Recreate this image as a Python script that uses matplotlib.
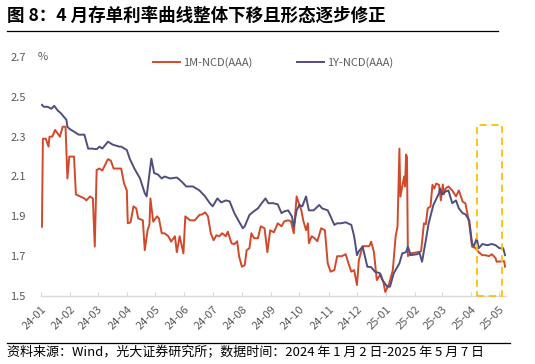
import matplotlib
matplotlib.use("Agg")
import matplotlib.pyplot as plt
import matplotlib.dates as mdates
import pandas as pd
from matplotlib.patches import Rectangle

plt.rcParams['font.family'] = ['Noto Sans CJK SC', 'DejaVu Sans']

title = "图 8：4 月存单利率曲线整体下移且形态逐步修正"
source = "资料来源：Wind，光大证券研究所；数据时间：2024 年 1 月 2 日-2025 年 5 月 7 日"
series_names = ["1M-NCD(AAA)", "1Y-NCD(AAA)"]
y_ticks = [1.5, 1.7, 1.9, 2.1, 2.3, 2.5, 2.7]
x_ticks = ["2024-01-01", "2024-02-01", "2024-03-01", "2024-04-01", "2024-05-01", "2024-06-01",
           "2024-07-01", "2024-08-01", "2024-09-01", "2024-10-01", "2024-11-01", "2024-12-01",
           "2025-01-01", "2025-02-01", "2025-03-01", "2025-04-01", "2025-05-01"]
x_tick_labels = ["24-01", "24-02", "24-03", "24-04", "24-05", "24-06", "24-07", "24-08", "24-09",
                 "24-10", "24-11", "24-12", "25-01", "25-02", "25-03", "25-04", "25-05"]
highlight_range = ["2025-04-07", "2025-05-04"]
highlight_top = 2.36

dates_1m = ["2024-01-02", "2024-01-03", "2024-01-06", "2024-01-09", "2024-01-10", "2024-01-13",
            "2024-01-16", "2024-01-21", "2024-01-24", "2024-01-27", "2024-01-29", "2024-01-31",
            "2024-02-05", "2024-02-07", "2024-02-16", "2024-02-18", "2024-02-22", "2024-02-25",
            "2024-02-27", "2024-02-29", "2024-03-03", "2024-03-06", "2024-03-12", "2024-03-15",
            "2024-03-18", "2024-03-26", "2024-03-29", "2024-04-01", "2024-04-02", "2024-04-05",
            "2024-04-08", "2024-04-11", "2024-04-13", "2024-04-18", "2024-04-20", "2024-04-23",
            "2024-04-25", "2024-04-26", "2024-04-29", "2024-05-03", "2024-05-05", "2024-05-08",
            "2024-05-11", "2024-05-15", "2024-05-18", "2024-05-22", "2024-05-24", "2024-05-27",
            "2024-05-31", "2024-06-02", "2024-06-07", "2024-06-12", "2024-06-17", "2024-06-20",
            "2024-06-23", "2024-06-26", "2024-06-29", "2024-07-02", "2024-07-05", "2024-07-08",
            "2024-07-11", "2024-07-15", "2024-07-17", "2024-07-21", "2024-07-24", "2024-07-27",
            "2024-07-29", "2024-08-01", "2024-08-04", "2024-08-06", "2024-08-09", "2024-08-11",
            "2024-08-14", "2024-08-18", "2024-08-21", "2024-08-25", "2024-08-28", "2024-08-31",
            "2024-09-04", "2024-09-08", "2024-09-12", "2024-09-15", "2024-09-19", "2024-09-22",
            "2024-09-25", "2024-09-28", "2024-09-30", "2024-10-03", "2024-10-05", "2024-10-08",
            "2024-10-10", "2024-10-11", "2024-10-14", "2024-10-17", "2024-10-20", "2024-10-24",
            "2024-10-28", "2024-10-31", "2024-11-03", "2024-11-07", "2024-11-10", "2024-11-15",
            "2024-11-19", "2024-11-22", "2024-11-25", "2024-11-28", "2024-12-01", "2024-12-03",
            "2024-12-07", "2024-12-10", "2024-12-14", "2024-12-16", "2024-12-19", "2024-12-22",
            "2024-12-26", "2024-12-29", "2024-12-31", "2025-01-04", "2025-01-08", "2025-01-11",
            "2025-01-13", "2025-01-15", "2025-01-16", "2025-01-18", "2025-01-20", "2025-01-21",
            "2025-01-22", "2025-01-23", "2025-01-24", "2025-01-28", "2025-02-04", "2025-02-07",
            "2025-02-10", "2025-02-12", "2025-02-14", "2025-02-17", "2025-02-19", "2025-02-21",
            "2025-02-23", "2025-02-26", "2025-02-28", "2025-03-02", "2025-03-03", "2025-03-05",
            "2025-03-08", "2025-03-12", "2025-03-16", "2025-03-19", "2025-03-23", "2025-03-26",
            "2025-03-30", "2025-04-02", "2025-04-06", "2025-04-09", "2025-04-13", "2025-04-16",
            "2025-04-20", "2025-04-23", "2025-04-27", "2025-04-28", "2025-05-06", "2025-05-07"]
values_1m = [1.848, 2.29, 2.29, 2.25, 2.30, 2.30,
             2.334, 2.30, 2.35, 2.35, 2.09, 2.20,
             2.20, 2.01, 1.99, 1.98, 2.00, 1.99,
             1.748, 2.133, 2.14, 2.13, 2.187, 2.18,
             2.14, 2.14, 2.066, 2.03, 1.865, 1.87,
             1.95, 1.94, 1.89, 1.88, 1.73, 1.83,
             1.86, 1.99, 1.873, 1.90, 1.89, 1.815,
             1.815, 1.80, 1.773, 1.80, 1.72, 1.80,
             1.714, 1.90, 1.88, 1.88, 1.907, 1.91,
             1.92, 1.90, 1.815, 1.78, 1.805, 1.80,
             1.815, 1.80, 1.823, 1.765, 1.76, 1.775,
             1.70, 1.647, 1.655, 1.73, 1.74, 1.815,
             1.79, 1.79, 1.85, 1.84, 1.72, 1.83,
             1.82, 1.865, 1.85, 1.875, 1.88, 1.875,
             1.815, 2.00, 1.97, 1.93, 1.88, 1.83,
             1.865, 1.765, 1.80, 1.79, 1.775, 1.84,
             1.83, 1.664, 1.622, 1.63, 1.70, 1.70,
             1.71, 1.664, 1.622, 1.63, 1.555, 1.68,
             1.75, 1.75, 1.75, 1.773, 1.72, 1.58,
             1.61, 1.57, 1.52, 1.56, 1.63, 1.80,
             1.85, 2.24, 1.999, 2.05, 2.10, 2.05,
             2.21, 2.20, 1.70, 1.715, 1.72, 1.725,
             1.865, 1.86, 1.94, 1.95, 2.058, 2.04,
             2.065, 2.058, 1.98, 2.06, 2.01, 2.04,
             2.05, 2.03, 2.00, 2.03, 1.974, 1.965,
             1.865, 1.748, 1.74, 1.72, 1.705, 1.705,
             1.70, 1.71, 1.69, 1.672, 1.675, 1.647]

dates_1y = ["2024-01-02", "2024-01-04", "2024-01-08", "2024-01-12", "2024-01-15", "2024-01-19",
            "2024-01-22", "2024-01-28", "2024-01-29", "2024-01-31", "2024-02-05", "2024-02-10",
            "2024-02-16", "2024-02-20", "2024-02-24", "2024-02-29", "2024-03-03", "2024-03-06",
            "2024-03-12", "2024-03-17", "2024-03-24", "2024-03-26", "2024-04-01", "2024-04-04",
            "2024-04-09", "2024-04-15", "2024-04-20", "2024-04-22", "2024-04-27", "2024-04-30",
            "2024-05-04", "2024-05-08", "2024-05-11", "2024-05-17", "2024-05-24", "2024-05-29",
            "2024-06-03", "2024-06-10", "2024-06-17", "2024-06-23", "2024-06-28", "2024-07-01",
            "2024-07-06", "2024-07-10", "2024-07-15", "2024-07-19", "2024-07-24", "2024-07-29",
            "2024-08-02", "2024-08-04", "2024-08-09", "2024-08-13", "2024-08-18", "2024-08-22",
            "2024-08-26", "2024-08-29", "2024-09-03", "2024-09-08", "2024-09-12", "2024-09-15",
            "2024-09-19", "2024-09-23", "2024-09-25", "2024-09-28", "2024-10-01", "2024-10-04",
            "2024-10-08", "2024-10-11", "2024-10-16", "2024-10-22", "2024-10-25", "2024-10-31",
            "2024-11-03", "2024-11-07", "2024-11-10", "2024-11-14", "2024-11-19", "2024-11-25",
            "2024-11-28", "2024-12-01", "2024-12-03", "2024-12-07", "2024-12-12", "2024-12-16",
            "2024-12-20", "2024-12-25", "2024-12-28", "2025-01-02", "2025-01-05", "2025-01-09",
            "2025-01-15", "2025-01-18", "2025-01-22", "2025-01-24", "2025-01-27", "2025-02-03",
            "2025-02-05", "2025-02-08", "2025-02-12", "2025-02-15", "2025-02-20", "2025-02-26",
            "2025-02-27", "2025-03-01", "2025-03-05", "2025-03-08", "2025-03-12", "2025-03-16",
            "2025-03-19", "2025-03-23", "2025-03-26", "2025-03-30", "2025-04-02", "2025-04-04",
            "2025-04-07", "2025-04-09", "2025-04-13", "2025-04-18", "2025-04-23", "2025-04-27",
            "2025-05-01", "2025-05-05", "2025-05-07"]
values_1y = [2.46, 2.45, 2.45, 2.44, 2.455, 2.43,
             2.418, 2.384, 2.35, 2.34, 2.325, 2.31,
             2.31, 2.24, 2.24, 2.237, 2.25, 2.24,
             2.275, 2.26, 2.25, 2.25, 2.233, 2.19,
             2.14, 2.09, 2.016, 2.00, 2.19, 2.117,
             2.11, 2.09, 2.10, 2.09, 2.095, 2.075,
             2.05, 2.05, 2.03, 2.00, 1.966, 1.95,
             1.99, 1.97, 1.98, 1.975, 1.916, 1.873,
             1.84, 1.85, 1.907, 1.923, 1.94, 1.966,
             1.99, 1.966, 1.966, 1.96, 1.916, 1.925,
             1.93, 1.90, 1.848, 1.93, 1.957, 1.95,
             2.00, 1.93, 1.93, 1.957, 1.94, 1.93,
             1.90, 1.857, 1.865, 1.865, 1.87, 1.857,
             1.80, 1.705, 1.725, 1.748, 1.647, 1.645,
             1.622, 1.615, 1.58, 1.547, 1.547, 1.614,
             1.664, 1.714, 1.72, 1.748, 1.705, 1.71,
             1.72, 1.672, 1.78, 1.865, 1.957, 2.016,
             2.04, 2.01, 2.025, 2.03, 1.966, 1.98,
             1.94, 1.916, 1.91, 1.88, 1.765, 1.75,
             1.79, 1.74, 1.761, 1.755, 1.761, 1.755,
             1.74, 1.74, 1.705]

red = "#D2492A"
navy = "#4F4E7E"
gray_text = "#595959"

fig = plt.figure(figsize=(5.35, 3.64), dpi=100)
ax = fig.add_axes([41 / 535, 1 - 296 / 364, 465 / 535, (296 - 57) / 364])

ax.plot(pd.to_datetime(dates_1m), values_1m, color=red, lw=1.4, label=series_names[0])
ax.plot(pd.to_datetime(dates_1y), values_1y, color=navy, lw=1.4, label=series_names[1])

hx0 = mdates.date2num(pd.Timestamp(highlight_range[0]))
hx1 = mdates.date2num(pd.Timestamp(highlight_range[1]))
ax.add_patch(Rectangle((hx0, y_ticks[0]), hx1 - hx0, highlight_top - y_ticks[0],
                       fill=False, edgecolor="#FFC000", lw=1.3, ls=(0, (4, 2.5)),
                       clip_on=False, zorder=3))

ax.set_ylim(y_ticks[0], y_ticks[-1])
ax.set_yticks(y_ticks)
ax.set_yticklabels([f"{v:.1f}" for v in y_ticks])
ax.set_xlim(pd.Timestamp("2024-01-01"), pd.Timestamp("2025-05-08"))
ax.set_xticks(pd.to_datetime(x_ticks))
ax.set_xticklabels(x_tick_labels, rotation=45, ha="right", rotation_mode="anchor")

for s in ["left", "right", "top"]:
    ax.spines[s].set_visible(False)
ax.spines["bottom"].set_color("#D9D9D9")
ax.spines["bottom"].set_linewidth(1.0)
ax.tick_params(axis="y", length=0, pad=11, labelsize=8, labelcolor=gray_text)
ax.tick_params(axis="x", direction="in", length=3, color="#D9D9D9", pad=6,
               labelsize=8, labelcolor=gray_text)

fig.text(38 / 535, 1 - 57 / 364, "%", fontsize=8, color=gray_text, va="center", ha="left")

leg = ax.legend(loc="upper center", bbox_to_anchor=(0.50, 1.04), ncol=2, frameon=False,
                fontsize=8, handlelength=2.4, handletextpad=0.3, columnspacing=4.0)
for t in leg.get_texts():
    t.set_color(gray_text)

fig.text(7 / 535, 1 - 16 / 364, title, fontsize=12.6, fontweight="bold", color="black",
         va="center", ha="left")
fig.add_artist(plt.Line2D([7 / 535, 498 / 535], [1 - 31 / 364, 1 - 31 / 364],
                          color="black", lw=0.9))
fig.add_artist(plt.Line2D([7 / 535, 510 / 535], [1 - 343 / 364, 1 - 343 / 364],
                          color="black", lw=0.9))
fig.text(7 / 535, 1 - 353 / 364, source, fontsize=9.4, color="black", va="center", ha="left")

fig.savefig("out.png", dpi=100)
